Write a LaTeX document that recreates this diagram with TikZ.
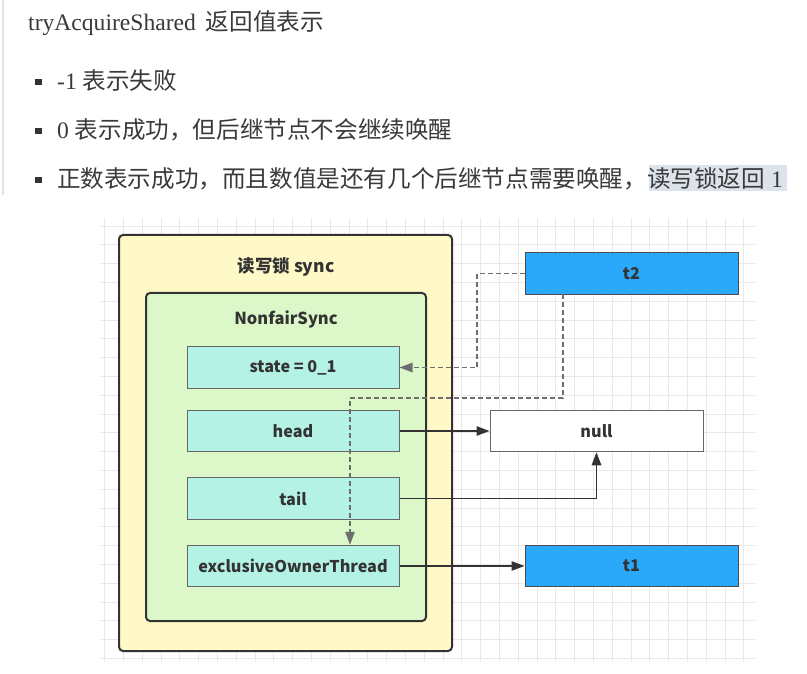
\documentclass[tikz,border=0pt]{standalone}
\usepackage{fontspec}
\setmainfont{Liberation Serif}
\newfontfamily\cjk{Noto Sans CJK SC}
\usetikzlibrary{arrows.meta}
\definecolor{txt}{HTML}{3A3A3A}
\definecolor{dtxt}{HTML}{333333}
\definecolor{gridc}{HTML}{E8E8E8}
\definecolor{yel}{HTML}{FFF9C8}
\definecolor{grn}{HTML}{DCF7C8}
\definecolor{teal}{HTML}{B3F2E5}
\definecolor{blu}{HTML}{2AA8FA}
\definecolor{hil}{HTML}{DDE3EA}
\definecolor{dash}{HTML}{6E6E6E}
\tikzset{
  toptext/.style={anchor=base west, inner sep=0pt, text=txt, font=\fontsize{23.6}{26}\selectfont},
  bul/.style={fill=dtxt, minimum size=6.5pt, inner sep=0pt},
  outerbox/.style={draw=dtxt, line width=2pt, rounded corners=4pt},
  lbl/.style={text=dtxt, font=\cjk\bfseries\fontsize{16.5}{20}\selectfont, inner sep=0pt},
  field/.style={draw=black!60, line width=1pt, fill=teal, minimum width=212pt, minimum height=41.5pt, inner sep=0pt, text=dtxt, font=\cjk\bfseries\fontsize{16.2}{20}\selectfont},
  thr/.style={field, fill=blu, draw=black!70, minimum width=213pt},
  nul/.style={field, fill=white, minimum width=213pt},
  conn/.style={draw=dtxt, line width=1.1pt, -{Triangle[length=13pt,width=9.5pt]}},
  dconn/.style={draw=dash, line width=1.1pt, dash pattern=on 5pt off 3pt, -{Triangle[length=13pt,width=9.5pt]}},
}
\begin{document}
\begin{tikzpicture}[x=1pt,y=-1pt]
\useasboundingbox (0,0) rectangle (807,674);
\fill[white] (0,0) rectangle (807,674);
% left rule
\draw[black!12, line width=2pt] (3,0) -- (3,195);
% header text
\node[toptext] (title) at (28,31) {tryAcquireShared\hspace{10pt}{\cjk 返回值表示}};
\node[bul] (b1) at (38.5,82) {};
\node[toptext] (l1) at (57,90) {-1 {\cjk 表示失败}};
\node[bul] (b2) at (38.5,131) {};
\node[toptext] (l2) at (57,139) {0 {\cjk 表示成功，但后继节点不会继续唤醒}};
\node[bul] (b3) at (38.5,180) {};
\fill[hil] (649,165) rectangle (787,191);
\node[toptext] (l3) at (57,188) {{\cjk 正数表示成功，而且数值是还有几个后继节点需要唤醒，读写锁返回} 1};
% grid
\foreach \k in {0,...,34} {\draw[gridc, line width=0.8pt] (104.5+\k*18.8,218) -- (104.5+\k*18.8,662);}
\foreach \k in {0,...,23} {\draw[gridc, line width=0.8pt] (100,226+\k*18.8) -- (755,226+\k*18.8);}
% containers
\draw[outerbox, fill=yel] (119,235) rectangle (452,651);
\node[lbl, font=\cjk\bfseries\fontsize{17.5}{20}\selectfont] (synct) at (286,267) {读写锁 sync};
\draw[outerbox, fill=grn] (146,293) rectangle (426,621);
\node[lbl] (nft) at (286,319) {NonfairSync};
% fields
\node[field] (state) at (293,367.5) {state = 0\_1};
\node[field] (head) at (293,431) {head};
\node[field] (tail) at (293,498.5) {tail};
\node[field] (excl) at (293,566) {exclusiveOwnerThread};
% right nodes
\node[thr] (t2) at (631.5,273.5) {t2};
\node[nul] (null) at (596.5,431) {null};
\node[thr] (t1) at (631.5,566) {t1};
% connectors
\coordinate (dx) at (350,0);
\draw[dconn] (t2.west) -- (477,273.5) |- (state.east);
\draw[dconn] (563,294) -- (563,398) -- (350,398) -- (excl.north -| dx);
\draw[conn] (head.east) -- (null.west);
\draw[conn] (tail.east) -| (null.south);
\draw[conn] (excl.east) -- (t1.west);
\end{tikzpicture}
\end{document}
